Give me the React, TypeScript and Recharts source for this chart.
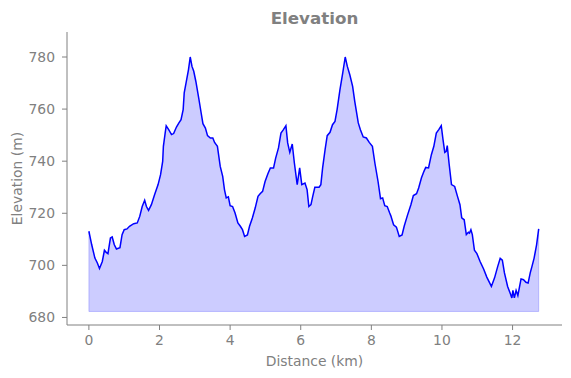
import React from 'react'
import {
  Area,
  ComposedChart,
  Label,
  Line,
  ReferenceLine,
  XAxis,
  YAxis,
} from 'recharts'

// distance along the route (km) and elevation (m)
const distanceKm = [
  0, 0.08, 0.17, 0.24, 0.3, 0.38, 0.44, 0.49, 0.54, 0.61, 0.66, 0.72, 0.78, 0.88, 0.94,
  1.0, 1.08, 1.15, 1.27, 1.37, 1.44, 1.51, 1.58, 1.63, 1.69, 1.77, 1.86, 1.96, 2.03, 2.09,
  2.11, 2.16, 2.19, 2.26, 2.34, 2.4, 2.48, 2.55, 2.61, 2.67, 2.7, 2.76, 2.82, 2.87, 2.92,
  2.97, 3.03, 3.11, 3.18, 3.23, 3.3, 3.36, 3.44, 3.51, 3.56, 3.64, 3.72, 3.79, 3.84, 3.89,
  3.95, 4.0, 4.07, 4.14, 4.22, 4.29, 4.35, 4.41, 4.49, 4.55, 4.63, 4.71, 4.79, 4.85, 4.92,
  4.99, 5.07, 5.14, 5.23, 5.29, 5.37, 5.44, 5.51, 5.58, 5.63, 5.69, 5.76, 5.82, 5.9, 5.97,
  6.03, 6.12, 6.18, 6.23, 6.29, 6.34, 6.4, 6.52, 6.57, 6.62, 6.69, 6.75, 6.83, 6.9, 6.97,
  7.03, 7.11, 7.19, 7.26, 7.32, 7.39, 7.47, 7.53, 7.63, 7.69, 7.77, 7.86, 7.94, 8.03, 8.1,
  8.19, 8.26, 8.32, 8.38, 8.45, 8.52, 8.55, 8.63, 8.71, 8.79, 8.87, 8.93, 9.02, 9.12, 9.19,
  9.28, 9.34, 9.42, 9.49, 9.54, 9.62, 9.7, 9.77, 9.84, 9.91, 9.98, 10.03, 10.08, 10.12, 10.15,
  10.2, 10.27, 10.36, 10.44, 10.51, 10.56, 10.63, 10.69, 10.75, 10.78, 10.82, 10.86, 10.92, 10.99, 11.08,
  11.18, 11.27, 11.4, 11.49, 11.58, 11.65, 11.71, 11.77, 11.86, 11.93, 11.98, 12.01, 12.05, 12.1, 12.15,
  12.19, 12.24, 12.31, 12.38, 12.44, 12.5, 12.55, 12.61, 12.68, 12.74,
]

const elevationM = [
  713.1, 707.9, 702.8, 700.9, 698.8, 701.5, 705.8, 705.0, 704.5, 710.5, 710.9, 707.9, 706.3, 706.8, 711.8,
  713.7, 714.0, 715.0, 716.0, 716.3, 718.8, 722.6, 725.0, 722.6, 721.1, 723.3, 727.1, 731.0, 734.8, 739.9,
  745.7, 750.8, 753.6, 752.1, 750.2, 750.6, 753.1, 754.7, 755.9, 759.8, 766.2, 770.6, 775.1, 780.0, 776.4,
  774.5, 770.6, 764.3, 758.5, 754.4, 752.7, 749.8, 748.9, 748.9, 747.2, 745.7, 738.0, 734.2, 729.1, 725.9,
  726.3, 722.9, 722.6, 720.1, 716.3, 715.0, 713.7, 711.1, 711.7, 715.0, 718.2, 722.0, 726.5, 727.5, 728.4,
  732.2, 735.2, 737.4, 737.4, 741.2, 745.1, 750.8, 752.1, 753.6, 747.0, 743.4, 746.6, 739.3, 731.0, 737.4,
  731.0, 731.6, 729.1, 722.6, 723.3, 726.5, 730.0, 730.0, 731.0, 737.4, 744.4, 749.8, 751.1, 754.0, 755.3,
  759.8, 767.4, 773.9, 780.0, 776.4, 773.2, 768.7, 763.0, 754.7, 752.1, 749.3, 748.9, 747.2, 745.7, 739.3,
  732.2, 725.6, 725.9, 722.9, 722.6, 720.1, 719.1, 715.6, 714.7, 711.1, 711.7, 715.0, 719.1, 723.3, 726.8,
  727.5, 729.7, 733.6, 736.1, 737.6, 737.4, 742.5, 745.7, 750.8, 752.1, 753.6, 748.3, 743.4, 743.8, 746.0,
  739.3, 731.0, 730.3, 726.5, 723.3, 718.2, 717.5, 711.8, 712.7, 712.4, 713.7, 711.8, 705.8, 704.5, 701.5,
  698.6, 695.5, 691.9, 695.2, 699.6, 702.7, 702.0, 697.1, 691.9, 689.4, 687.5, 690.4, 687.5, 690.4, 688.4,
  691.3, 694.8, 694.5, 693.5, 693.2, 697.1, 699.6, 702.8, 707.9, 714.0,
]

const FILL_BASE = 682.3
const xTicks = [0, 2, 4, 6, 8, 10, 12]
const yTicks = [680, 700, 720, 740, 760, 780]

const GREY = '#808080'
const FONT = '"DejaVu Sans", sans-serif'

const rows = distanceKm.map((d, i) => ({ d, elev: elevationM[i] }))
const lastD = distanceKm[distanceKm.length - 1]
const lastE = elevationM[elevationM.length - 1]

function YTitle(props: any) {
  const vb = props.viewBox
  const cy = vb.y + vb.height / 2
  return (
    <text
      x={17}
      y={cy}
      dy="0.36em"
      transform={`rotate(-90 17 ${cy})`}
      textAnchor="middle"
      fill={GREY}
      fontSize={13.9}
      fontFamily={FONT}
    >
      Elevation (m)
    </text>
  )
}

export default function App() {
  const tick = { fontSize: 13.9, fill: GREY, fontFamily: FONT }
  return (
    <div style={{ position: 'absolute', left: 0, top: 0, width: 571, height: 378, background: '#fff' }}>
      <ComposedChart
        width={571}
        height={378}
        data={rows}
        margin={{ top: 32, right: 9, left: 0, bottom: 0 }}
      >
        <XAxis
          type="number"
          dataKey="d"
          domain={[-0.62, 13.4]}
          ticks={xTicks}
          allowDataOverflow
          height={53}
          stroke={GREY}
          tickSize={5}
          tickMargin={5}
          tick={tick}
        >
          <Label
            value="Distance (km)"
            position="insideBottom"
            offset={12}
            fill={GREY}
            fontSize={13.9}
            fontFamily={FONT}
          />
        </XAxis>
        <YAxis
          type="number"
          domain={[677.1, 789.6]}
          ticks={yTicks}
          allowDataOverflow
          width={67}
          stroke={GREY}
          tickSize={5}
          tickMargin={7}
          tick={tick}
          label={{ content: YTitle }}
        />
        <Area
          type="linear"
          dataKey="elev"
          baseValue={FILL_BASE}
          fill="#0000ff"
          fillOpacity={0.2}
          stroke="none"
          isAnimationActive={false}
        />
        <ReferenceLine
          segment={[{ x: 0, y: FILL_BASE }, { x: lastD, y: FILL_BASE }]}
          stroke="#0000ff"
          strokeOpacity={0.2}
        />
        <ReferenceLine
          segment={[{ x: 0, y: FILL_BASE }, { x: 0, y: elevationM[0] }]}
          stroke="#0000ff"
          strokeOpacity={0.2}
        />
        <ReferenceLine
          segment={[{ x: lastD, y: FILL_BASE }, { x: lastD, y: lastE }]}
          stroke="#0000ff"
          strokeOpacity={0.2}
        />
        <Line
          type="linear"
          dataKey="elev"
          stroke="#0000ff"
          strokeWidth={1.5}
          dot={false}
          activeDot={false}
          isAnimationActive={false}
        />
      </ComposedChart>
      <svg width={571} height={40} style={{ position: 'absolute', left: 0, top: 0, pointerEvents: 'none' }}>
        <text x={314.5} y={24} textAnchor="middle" fill={GREY} fontSize={16.7} fontWeight="bold" fontFamily={FONT}>
          Elevation
        </text>
      </svg>
    </div>
  )
}
